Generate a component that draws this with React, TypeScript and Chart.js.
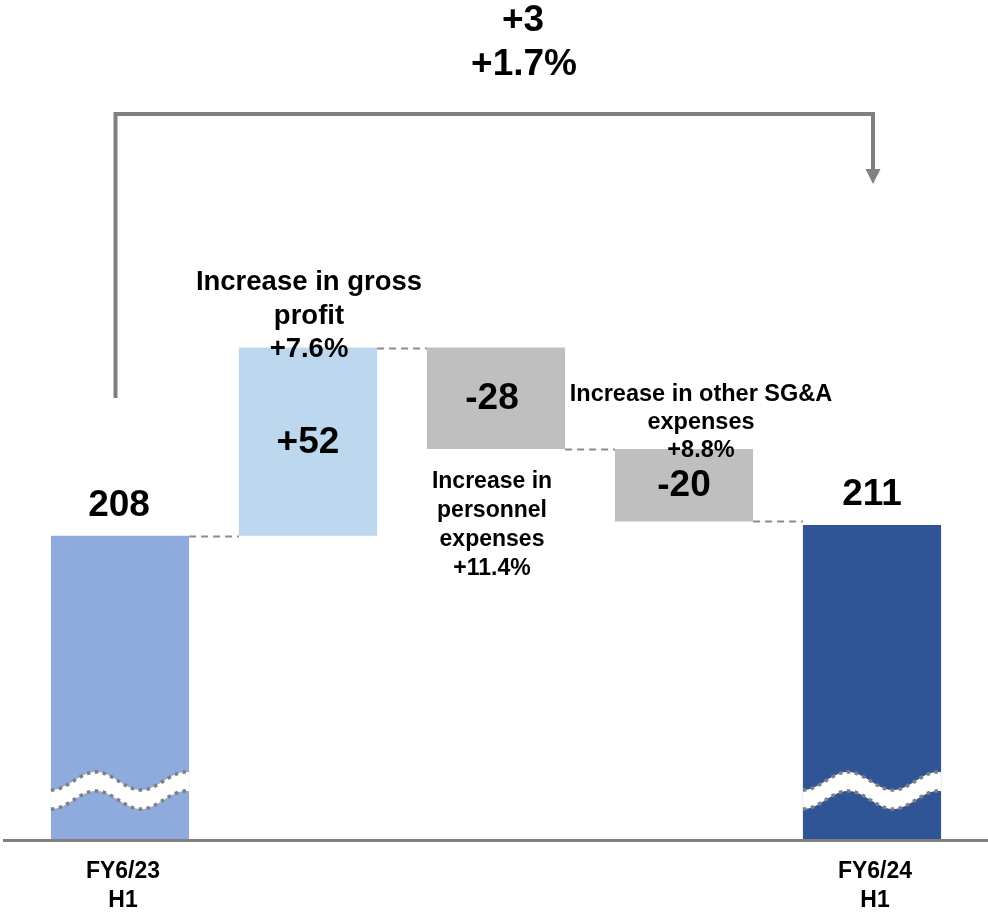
import { useEffect, useRef } from 'react';
import { Chart, registerables } from 'chart.js';

Chart.register(...registerables);

// ---- data ----
const categories = [
  'FY6/23 H1',
  'Increase in gross profit',
  'Increase in personnel expenses',
  'Increase in other SG&A expenses',
  'FY6/24 H1',
];
const startValue = 208;
const deltas = [52, -28, -20];
const endValue = 211;
const valueLabels = ['208', '+52', '-28', '-20', '211'];
const axisLabels = [['FY6/23', 'H1'], [], [], [], ['FY6/24', 'H1']];
const grossNote = ['Increase in gross', 'profit', '+7.6%'];
const personnelNote = ['Increase in', 'personnel', 'expenses', '+11.4%'];
const sgaNote = ['Increase in other SG&A', 'expenses', '+8.8%'];
const totalChange = ['+3', '+1.7%'];
const barColors = ['#8FAADC', '#BDD7EE', '#BFBFBF', '#BFBFBF', '#2F5597'];
const axisMin = 124; // broken axis base
const axisMax = 356;

const FONT = "'Liberation Sans', Arial, Helvetica, sans-serif";

// build floating ranges from the values
const ranges: number[][] = [];
const levels: number[] = [];
{
  let level = startValue;
  ranges.push([axisMin, startValue]);
  levels.push(level);
  for (const d of deltas) {
    const next = level + d;
    ranges.push([Math.min(level, next), Math.max(level, next)]);
    level = next;
    levels.push(level);
  }
  ranges.push([axisMin, endValue]);
}

function drawLines(ctx: CanvasRenderingContext2D, lines: string[], cx: number, firstY: number, spacing: number, size: number) {
  ctx.save();
  ctx.fillStyle = '#000';
  ctx.font = `bold ${size}px ${FONT}`;
  ctx.textAlign = 'center';
  ctx.textBaseline = 'middle';
  lines.forEach((l, i) => ctx.fillText(l, cx, firstY + i * spacing));
  ctx.restore();
}

function drawBreak(ctx: CanvasRenderingContext2D, left: number, width: number, bottom: number) {
  const cy = bottom - 59;
  const amp = 9;
  const period = width * 90 / 138;
  const gap = 19;
  const yAt = (x: number) => cy + amp * Math.cos((2 * Math.PI * (x - left)) / period);
  const right = left + width;
  ctx.save();
  ctx.beginPath();
  for (let x = left; x <= right; x += 1) {
    const y = yAt(x);
    if (x === left) ctx.moveTo(x, y);
    else ctx.lineTo(x, y);
  }
  for (let x = right; x >= left; x -= 1) ctx.lineTo(x, yAt(x) + gap);
  ctx.closePath();
  ctx.fillStyle = '#FFFFFF';
  ctx.fill();
  ctx.strokeStyle = '#7F7F7F';
  ctx.lineWidth = 3.5;
  ctx.setLineDash([3.5, 4.5]);
  for (const off of [0, gap]) {
    ctx.beginPath();
    for (let x = left; x <= right; x += 1) {
      const y = yAt(x) + off;
      if (x === left) ctx.moveTo(x, y);
      else ctx.lineTo(x, y);
    }
    ctx.stroke();
  }
  ctx.restore();
}

const overlay = {
  id: 'waterfallOverlay',
  afterDatasetsDraw(chart: any) {
    const ctx: CanvasRenderingContext2D = chart.ctx;
    const bars: any[] = chart.getDatasetMeta(0).data;
    const yScale = chart.scales.y;
    const area = chart.chartArea;
    const geo = bars.map((b) => {
      const top = Math.min(b.y, b.base);
      const bottom = Math.max(b.y, b.base);
      return { x: b.x, w: b.width, left: b.x - b.width / 2, right: b.x + b.width / 2, top, bottom };
    });

    // dashed connectors
    ctx.save();
    ctx.strokeStyle = '#8C8C8C';
    ctx.lineWidth = 2;
    ctx.setLineDash([7, 5]);
    for (let i = 0; i < geo.length - 1; i++) {
      const y = Math.round(yScale.getPixelForValue(levels[i])) + 0.5;
      ctx.beginPath();
      ctx.moveTo(geo[i].right, y);
      ctx.lineTo(geo[i + 1].left, y);
      ctx.stroke();
    }
    ctx.restore();

    // axis breaks
    drawBreak(ctx, geo[0].left, geo[0].w, geo[0].bottom);
    drawBreak(ctx, geo[4].left, geo[4].w, geo[4].bottom);

    // baseline
    ctx.save();
    ctx.strokeStyle = '#808080';
    ctx.lineWidth = 3;
    ctx.beginPath();
    ctx.moveTo(3, area.bottom + 0.5);
    ctx.lineTo(chart.width, area.bottom + 0.5);
    ctx.stroke();
    ctx.restore();

    // bracket with arrow
    const bl = geo[0].x - 4.5;
    const br = geo[4].x + 1;
    const bTop = 114;
    ctx.save();
    ctx.strokeStyle = '#808080';
    ctx.fillStyle = '#808080';
    ctx.lineWidth = 4;
    ctx.lineJoin = 'miter';
    ctx.beginPath();
    ctx.moveTo(bl, 398);
    ctx.lineTo(bl, bTop);
    ctx.lineTo(br, bTop);
    ctx.lineTo(br, 172);
    ctx.stroke();
    ctx.beginPath();
    ctx.moveTo(br - 7.5, 169);
    ctx.lineTo(br + 7.5, 169);
    ctx.lineTo(br, 184);
    ctx.closePath();
    ctx.fill();
    ctx.restore();

    // total change text
    drawLines(ctx, [totalChange[0]], 523, 21, 44, 37);
    drawLines(ctx, [totalChange[1]], 524, 65, 44, 37);

    // value labels
    drawLines(ctx, [valueLabels[0]], geo[0].x - 1, geo[0].top - 30.5, 0, 37);
    drawLines(ctx, [valueLabels[4]], geo[4].x, geo[4].top - 30.5, 0, 37);
    for (let i = 1; i <= 3; i++) {
      drawLines(ctx, [valueLabels[i]], geo[i].x - (i === 2 ? 4 : 0), (geo[i].top + geo[i].bottom) / 2 + 1, 0, 37);
    }

    // notes
    drawLines(ctx, grossNote, geo[1].x + 1, geo[1].top - 65, 33.5, 27.5);
    drawLines(ctx, personnelNote, geo[2].x - 4, geo[2].bottom + 33, 29, 23);
    drawLines(ctx, sgaNote, geo[3].x + 17, geo[3].top - 54, 28, 23.5);

    // category labels
    axisLabels.forEach((lines, i) => {
      if (lines.length) drawLines(ctx, lines, geo[i].x + 3, area.bottom + 32, 29, 23);
    });
  },
};

export default function App() {
  const ref = useRef<HTMLCanvasElement | null>(null);
  useEffect(() => {
    if (!ref.current) return;
    const chart = new Chart(ref.current, {
      type: 'bar',
      data: {
        labels: categories,
        datasets: [
          {
            data: ranges as any,
            backgroundColor: barColors,
            borderWidth: 0,
            barPercentage: 0.735,
            categoryPercentage: 1,
          },
        ],
      },
      options: {
        responsive: false,
        animation: false,
        layout: { padding: { left: 26, right: 22, top: 0, bottom: 75 } },
        plugins: { legend: { display: false }, tooltip: { enabled: false } },
        scales: {
          x: { display: false },
          y: { display: false, min: axisMin, max: axisMax },
        },
      },
      plugins: [overlay],
    });
    return () => chart.destroy();
  }, []);
  return (
    <div style={{ position: 'absolute', left: 0, top: 0, width: 988, height: 915, background: '#fff' }}>
      <canvas ref={ref} width={988} height={915} />
    </div>
  );
}
